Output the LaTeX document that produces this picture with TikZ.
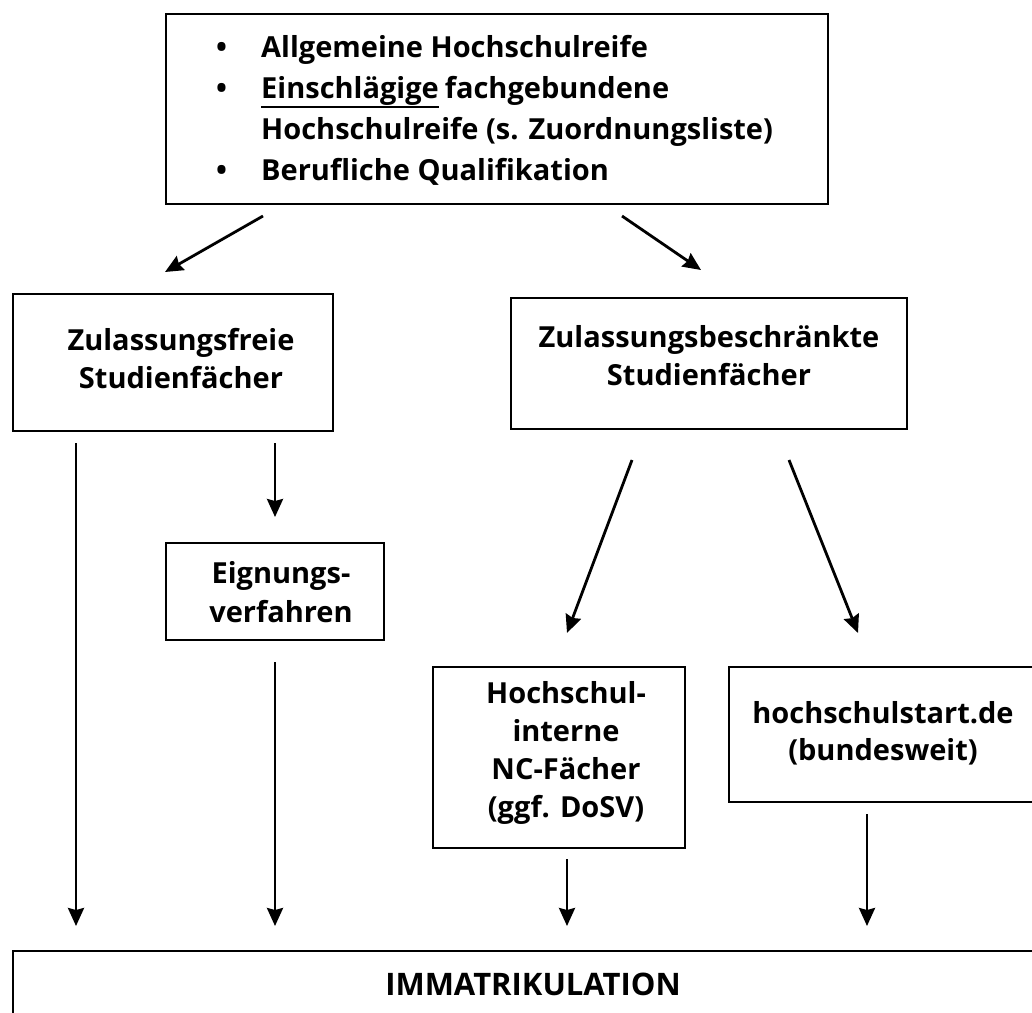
\documentclass[tikz,border=0pt]{standalone}
\usepackage{fontspec}
\setmainfont{Open Sans}
\usetikzlibrary{arrows.meta}
\newcommand\ulword[1]{\setbox0\hbox{#1}\rlap{\rule[-9.5pt]{\wd0}{2pt}}\box0\relax}
\newcommand\bul{\makebox[45pt][l]{\textbullet}}
\begin{document}
\begin{tikzpicture}[x=1pt,y=-1pt,
  box/.style={draw, line width=2pt, rectangle, inner sep=0pt, anchor=north west},
  txt/.style={inner sep=0pt, anchor=north, align=center, font=\fontsize{29}{38}\selectfont\bfseries},
  arr/.style={line width=2.8pt, -{Stealth[length=18pt,width=16pt,inset=2pt]}}]
\useasboundingbox (0,0) rectangle (1032,1012);
% boxes
\node[box, minimum width=662pt, minimum height=190pt] (top) at (165,13) {};
\node[box, minimum width=320pt, minimum height=137pt] (free) at (12,293) {};
\node[box, minimum width=396pt, minimum height=131pt] (restr) at (510,297) {};
\node[box, minimum width=218pt, minimum height=97pt] (eig) at (165,542) {};
\node[box, minimum width=252pt, minimum height=181pt] (nc) at (432,666) {};
\node[box, minimum width=320pt, minimum height=135pt] (hs) at (728,666) {};
\node[box, minimum width=1040pt, minimum height=80pt] (imm) at (12,950) {};
% texts
\node[inner sep=0pt, anchor=north west, align=left, font=\fontsize{29}{41}\selectfont\bfseries] (toptext) at (216,35)
  {\bul Allgemeine Hochschulreife\\
   \bul\ulword{Einschlägige}\hspace{6pt}fachgebundene\\
   \hspace*{45pt}Hochschulreife (s. Zuordnungsliste)\\
   \bul Berufliche Qualifikation};
\node[txt] (freetext) at (181,328) {Zulassungsfreie\\Studienfächer};
\node[txt] (restrtext) at (709,325) {Zulassungsbeschränkte\\Studienfächer};
\node[txt, font=\fontsize{29}{39.5}\selectfont\bfseries] (eigtext) at (281,561) {Eignungs-\\verfahren};
\node[txt] (nctext) at (566,681) {Hochschul-\\interne\\NC-Fächer\\(ggf. DoSV)};
\node[txt, font=\fontsize{29}{37}\selectfont\bfseries] (hstext) at (883,701) {hochschulstart.de\\(bundesweit)};
\node[txt, font=\fontsize{31}{38}\selectfont\bfseries] (immtext) at (533,973) {IMMATRIKULATION};
% arrow end points
\coordinate (a1s) at (263,216); \coordinate (a1e) at (165,272);
\coordinate (a2s) at (622,216); \coordinate (a2e) at (701,270);
\coordinate (a3s) at (76,443);  \coordinate (a3e) at (76,926);
\coordinate (a4s) at (275,443); \coordinate (a4e) at (275,517);
\coordinate (a5s) at (275,662); \coordinate (a5e) at (275,926);
\coordinate (a6s) at (632,460); \coordinate (a6e) at (567,633);
\coordinate (a7s) at (789,460); \coordinate (a7e) at (858,633);
\coordinate (a8s) at (567,859); \coordinate (a8e) at (567,926);
\coordinate (a9s) at (867,814); \coordinate (a9e) at (867,926);
\foreach \i in {1,...,9} {\draw[arr] (a\i s) -- (a\i e);}
\end{tikzpicture}
\end{document}
